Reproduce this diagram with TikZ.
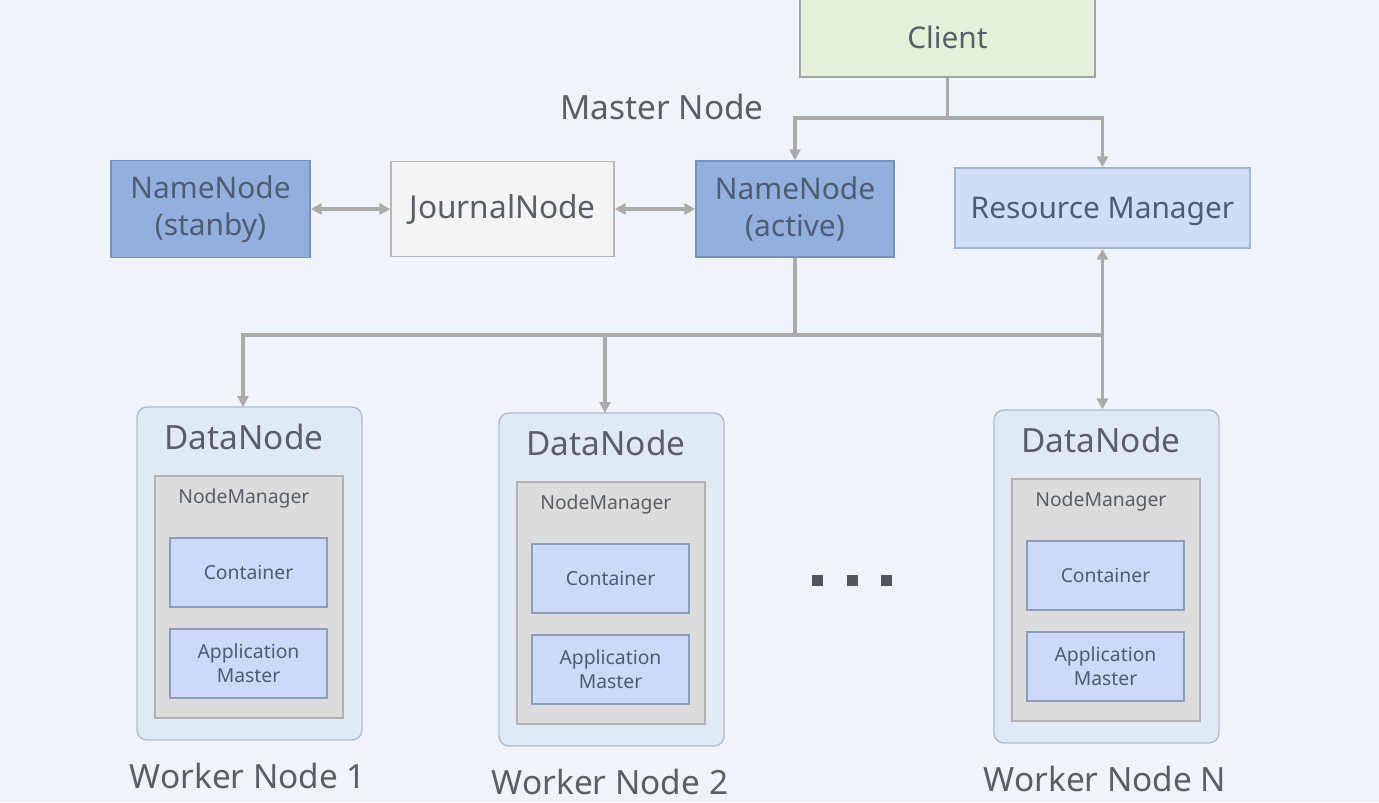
\documentclass[tikz,border=0pt]{standalone}
\usepackage{fontspec}
\setmainfont{Noto Sans}
\usetikzlibrary{arrows.meta}

\definecolor{bgcol}{HTML}{EFF4FB}
\definecolor{txtcol}{HTML}{5A5F67}
\definecolor{nametxt}{HTML}{4E5C74}
\definecolor{clientfill}{HTML}{E3F1DA}
\definecolor{clientdraw}{HTML}{9CA6A2}
\definecolor{namefill}{HTML}{92AFDD}
\definecolor{namedraw}{HTML}{7891BC}
\definecolor{journalfill}{HTML}{F4F4F4}
\definecolor{journaldraw}{HTML}{B6B6B6}
\definecolor{rmfill}{HTML}{CFDDF8}
\definecolor{rmdraw}{HTML}{9FB3D6}
\definecolor{datafill}{HTML}{E0EAF4}
\definecolor{datadraw}{HTML}{AEBDCC}
\definecolor{nmfill}{HTML}{DCDCDC}
\definecolor{nmdraw}{HTML}{B2B2B2}
\definecolor{ctfill}{HTML}{CCD9F7}
\definecolor{ctdraw}{HTML}{8E9DBE}
\definecolor{conncol}{HTML}{ABABAB}
\definecolor{dotcol}{HTML}{50555E}

\begin{document}
\begin{tikzpicture}[x = 0.02cm, y = -0.02cm,
	box/.style = {draw, line width = 0.8pt, inner sep = 0pt, align = center},
	clientbox/.style = {box, fill = clientfill, draw = clientdraw, text = txtcol, font = \fontsize{17}{20}\selectfont},
	namebox/.style = {box, fill = namefill, draw = namedraw, text = nametxt, font = \fontsize{17}{21}\selectfont},
	journalbox/.style = {box, fill = journalfill, draw = journaldraw, text = txtcol, font = \fontsize{18}{21}\selectfont},
	rmbox/.style = {box, fill = rmfill, draw = rmdraw, text = nametxt, text depth = 0pt, font = \fontsize{17}{20}\selectfont},
	databox/.style = {box, fill = datafill, draw = datadraw, rounded corners = 0.2cm},
	nmbox/.style = {box, fill = nmfill, draw = nmdraw},
	ctbox/.style = {box, fill = ctfill, draw = ctdraw, text = nametxt, font = \fontsize{11}{13.6}\selectfont},
	bigtext/.style = {text = txtcol, inner sep = 0pt, font = \fontsize{19}{22}\selectfont},
	smalltext/.style = {text = txtcol, inner sep = 0pt, font = \fontsize{11}{13}\selectfont},
	conn/.style = {draw = conncol, line width = 2pt, > = {Triangle[length=0.22cm, width=0.22cm]}}]
	
	% Background
	
	\path [use as bounding box, fill = bgcol] (0, 0) rectangle (1379, 802);
	\clip (0, 0) rectangle (1379, 802);
	
	% The master side
	
	\node (client) [clientbox, minimum width = 5.9cm, minimum height = 1.6cm] at (947.5, 37) {Client};
	\node (master) [bigtext] at (662, 107) {Master Node};
	
	\node (nns) [namebox, minimum width = 3.98cm, minimum height = 1.94cm] at (210.5, 209) {NameNode\\(stanby)};
	\node (jn) [journalbox, minimum width = 4.46cm, minimum height = 1.9cm] at (502.5, 209) {JournalNode};
	\node (nna) [namebox, minimum width = 3.96cm, minimum height = 1.92cm] at (795, 209) {NameNode\\(active)};
	\node (rm) [rmbox, minimum width = 5.9cm, minimum height = 1.6cm] at (1102.5, 208) {Resource Manager};
	
	% The worker nodes
	
	\foreach \i / \dx / \dy / \tag in {1/0/0/1, 2/362/6/2, 3/857/3/N}
	{
		\begin{scope}[shift = {(\dx, \dy)}]
		
			\node (dn\i) [databox, minimum width = 4.5cm, minimum height = 6.66cm] at (249.5, 573.5) {};
			\node (dntext\i) [bigtext] at (244, 437) {DataNode};
			\node (nm\i) [nmbox, minimum width = 3.76cm, minimum height = 4.84cm] at (249, 597) {};
			\node (nmtext\i) [smalltext, anchor = west] at (178, 498) {NodeManager};
			\node (ct\i) [ctbox, minimum width = 3.14cm, minimum height = 1.38cm] at (248.5, 572.5) {Container};
			\node (am\i) [ctbox, minimum width = 3.14cm, minimum height = 1.38cm] at (248.5, 663.5) {Application\\Master};
			\node (worker\i) [bigtext] at (248, 776) {Worker Node \tag};
			\coordinate (in\i) at (243, 407);
			
		\end{scope}
	}
	
	% More workers
	
	\foreach \x in {817, 852, 886}
		\fill [dotcol] (\x - 5.5, 574.5) rectangle (\x + 5.5, 585.5);
	
	% The connectors
	
	\coordinate (cbus) at (947.5, 118);
	\coordinate (dbus) at (795, 335);
	
	\draw [conn, <->] (nns) -- (jn);
	\draw [conn, <->] (jn) -- (nna);
	
	\draw [conn] (client) -- (cbus);
	\draw [conn, ->] (cbus) -| (nna.north);
	\draw [conn, ->] (cbus) -| (rm.north);
	
	\draw [conn] (nna) -- (dbus);
	\draw [conn, ->] (dbus) -| (in1);
	\draw [conn, ->] (dbus) -| (in2);
	\draw [conn] (dbus) -- (rm.south |- dbus);
	\draw [conn, <->] (rm.south) -- (rm.south |- dn3.north);

\end{tikzpicture}
\end{document}
